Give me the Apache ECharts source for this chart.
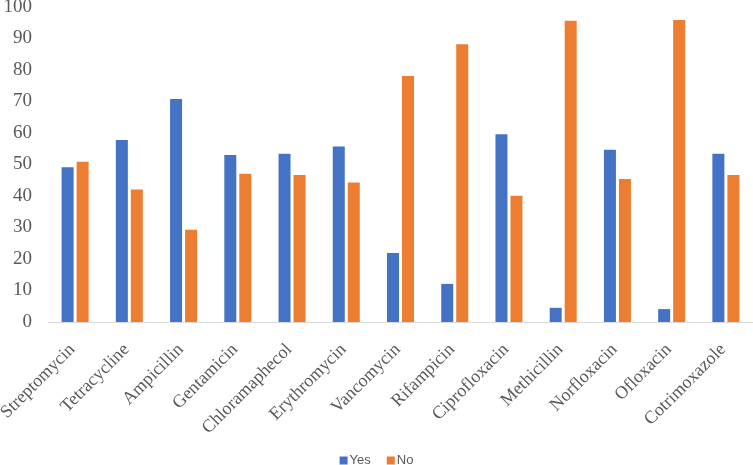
<!DOCTYPE html>
<html><head><meta charset="utf-8">
<script src="https://cdn.jsdelivr.net/npm/echarts@6/dist/echarts.min.js"></script>
<style>html,body{margin:0;padding:0;background:#fff}#c{width:753px;height:465px}</style>
</head><body><div id="c"></div>
<script>
var categories = ["Streptomycin","Tetracycline","Ampicillin","Gentamicin","Chloramaphecol","Erythromycin","Vancomycin","Rifampicin","Ciprofloxacin","Methicillin","Norfloxacin","Ofloxacin","Cotrimoxazole"];
var yesValues = [49.1,57.8,70.8,53.0,53.4,55.7,21.9,12.1,59.6,4.5,54.7,4.1,53.4];
var noValues  = [50.9,42.1,29.3,47.1,46.7,44.3,78.1,88.2,40.1,95.6,45.4,95.9,46.7];
var chart = echarts.init(document.getElementById('c'));
chart.setOption({
  animation:false,
  grid:{left:48,right:0,top:7,bottom:143,containLabel:false,outerBoundsMode:'none'},
  legend:{top:454,left:'center',padding:0,itemWidth:8,itemHeight:8,itemGap:16,icon:'rect',
    textStyle:{fontFamily:'Liberation Sans',fontSize:13,color:'#595959',padding:[0,0,0,-3]},
    data:['Yes','No']},
  xAxis:{type:'category',data:categories,
    axisLine:{lineStyle:{color:'#d9d9d9',width:1}},axisTick:{show:false},
    axisLabel:{rotate:45,interval:0,fontFamily:'Liberation Serif',fontSize:18,color:'#595959',margin:22,padding:[0,4,0,0]}},
  yAxis:{type:'value',min:0,max:100,interval:10,
    axisLine:{show:false},axisTick:{show:false},splitLine:{show:false},
    axisLabel:{fontFamily:'Liberation Serif',fontSize:19,color:'#595959',margin:16}},
  series:[
    {name:'Yes',type:'bar',data:yesValues,barWidth:12,barGap:'25%',itemStyle:{color:'#4472c4'}},
    {name:'No',type:'bar',data:noValues,barWidth:12,itemStyle:{color:'#ed7d31'}}
  ]
});
</script></body></html>
